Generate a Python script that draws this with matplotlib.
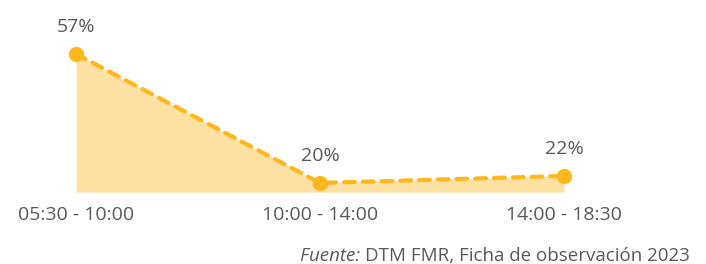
import matplotlib.pyplot as plt

periods = ['05:30 - 10:00', '10:00 - 14:00', '14:00 - 18:30']
values = [57, 20, 22]

line_color = '#FFB71E'
fill_color = '#FFE0A3'
text_color = '#595959'

plt.rcParams['font.family'] = ['Open Sans', 'DejaVu Sans']

fig = plt.figure(figsize=(7.06, 2.64), dpi=100)
ax = fig.add_axes([76 / 706, (264 - 192) / 264, (564 - 76) / 706, (192 - 54) / 264])

x = list(range(len(values)))
ymin = 17.4
ax.fill_between(x, ymin, values, color=fill_color, linewidth=0)
ax.plot(x, values, color=line_color, linestyle=(0, (2.6, 1.9)), linewidth=3,
        dash_capstyle='round', marker='o', markersize=10, clip_on=False, zorder=3)

for xi, v in zip(x, values):
    ax.annotate(f'{v}%', (xi, v), xytext=(0, 13), textcoords='offset points',
                ha='center', va='bottom', fontsize=14, color=text_color)

ax.set_xlim(0, 2)
ax.set_ylim(ymin, 57)
ax.set_xticks(x)
ax.set_xticklabels(periods, fontsize=14, color=text_color)
ax.tick_params(axis='x', length=0, pad=10)
ax.set_yticks([])
for s in ax.spines.values():
    s.set_visible(False)

fy = 1 - 256 / 264
t1 = fig.text(690 / 706, fy, 'DTM FMR, Ficha de observación 2023',
              fontsize=13.5, color=text_color, ha='right', va='center')
fig.canvas.draw()
bb = t1.get_window_extent()
fig.text(bb.x0 / fig.bbox.width, fy, 'Fuente: ', fontsize=13.5, color=text_color,
         ha='right', va='center', style='italic')

fig.savefig('out.png', dpi=100)
